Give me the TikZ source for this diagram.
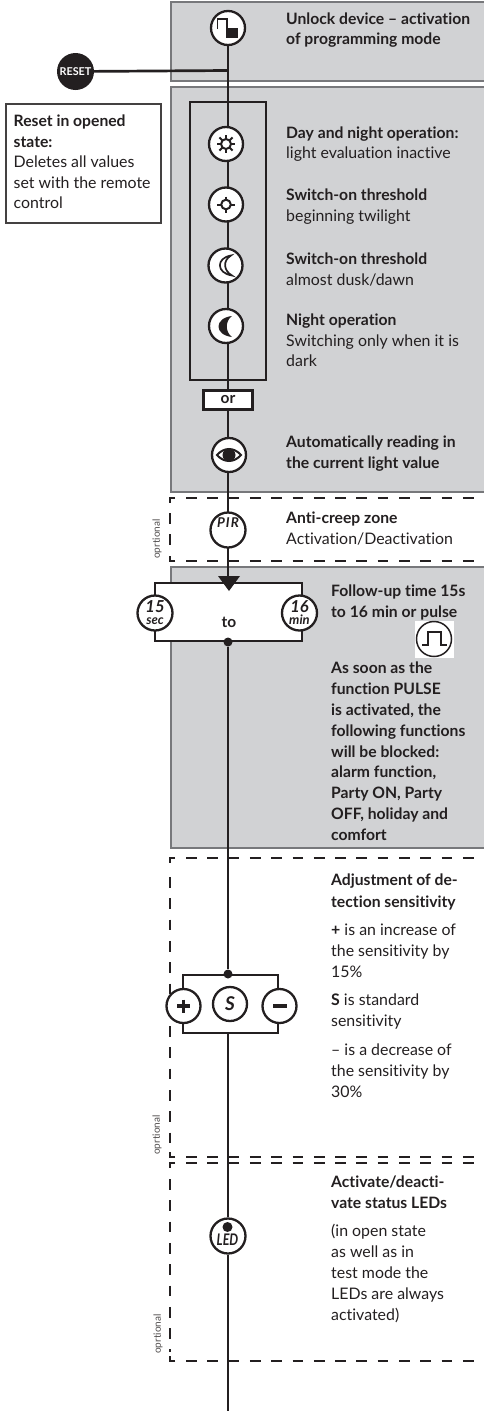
\documentclass[tikz,border=0pt]{standalone}
\usepackage{fontspec}
\setmainfont[Ligatures=NoCommon]{Lato}
\usetikzlibrary{backgrounds}
\definecolor{ink}{HTML}{231F20}
\definecolor{panel}{HTML}{D1D2D4}
\definecolor{edge}{HTML}{77787B}
\newcounter{txc}
\newcommand{\tx}[3]{\stepcounter{txc}\node[lbl] (t\thetxc) at (#1,#2) {#3};}
\newcommand{\tb}[3]{\stepcounter{txc}\node[lblb] (t\thetxc) at (#1,#2) {#3};}
\newcommand{\optl}[2]{\stepcounter{txc}\node[optlbl] (t\thetxc) at (#1,#2) {oprtional};}
\tikzset{
  lbl/.style={anchor=base west,inner sep=0,text=ink,font=\fontsize{15.9}{20}\selectfont},
  lblb/.style={anchor=base west,inner sep=0,text=ink,font=\fontsize{15.7}{20}\selectfont\bfseries},
  optlbl/.style={rotate=90,inner sep=0,text=ink!80,font=\fontsize{10}{10}\selectfont},
  icon/.style={circle,draw=ink,fill=white,line width=2.3pt,minimum size=34pt,inner sep=0pt,text=ink},
  panelbox/.style={fill=panel,draw=edge,line width=1.4pt},
  wire/.style={draw=ink,line width=2.7pt},
  dashln/.style={draw=ink,line width=2.7pt,dash pattern=on 10.7pt off 10.6pt},
  cornerln/.style={draw=ink,line width=2.7pt},
  glyph/.style={draw=ink,line width=2pt},
  ital/.style={font=\fontsize{#1}{#1}\selectfont\bfseries\itshape,inner sep=0,text=ink},
}
\begin{document}
\begin{tikzpicture}[x=1pt,y=-1pt]
\useasboundingbox (0,0) rectangle (484,1411);
% icon nodes
\node[icon] (lock) at (228,28) {};
\node[circle,fill=ink,minimum size=37pt,inner sep=0pt,text=white,font=\fontsize{10.8}{11}\selectfont\bfseries] (reset) at (75.5,71.5) {RESET};
\node[icon] (sun) at (226,144) {};
\node[icon] (thr) at (226,204.5) {};
\node[icon] (moon) at (225.5,265.5) {};
\node[icon] (night) at (226,326) {};
\node[draw=ink,fill=white,line width=2.7pt,minimum width=49pt,minimum height=19pt,inner sep=0,text=ink,font=\fontsize{15.5}{16}\selectfont\bfseries] (orbox) at (228,400) {or};
\node[icon] (eye) at (229,455) {};
\node[icon,minimum size=35pt] (pir) at (228,530) {};
\node[ital=13.5] (pirt) at (228,523) {P\kern1pt I\kern1pt R};
\node[icon,minimum size=35pt] (sec) at (155,613) {};
\node[ital=16.5,anchor=base] (sect1) at (155,612) {15};
\node[ital=13,anchor=base] (sect2) at (155,624) {sec};
\node[icon,minimum size=35pt] (mn) at (299.5,613) {};
\node[ital=16.5,anchor=base] (mnt1) at (299.5,612) {16};
\node[ital=13,anchor=base] (mnt2) at (299.5,624) {min};
\node[anchor=base,inner sep=0,text=ink,font=\fontsize{15.5}{16}\selectfont\bfseries] (tolbl) at (229,627) {to};
\node[circle,fill=ink,minimum size=9pt,inner sep=0] (d1) at (228,642) {};
\node[circle,fill=ink,minimum size=9pt,inner sep=0] (d2) at (228,974) {};
\node[icon] (plus) at (183.5,1006) {};
\node[icon] (std) at (230,1004) {};
\node[ital=19] (stdt) at (230,1004) {S};
\node[icon] (minus) at (279.5,1006) {};
\node[icon,minimum size=35pt] (led) at (228,1236) {};
\node[ital=16,anchor=base,xscale=0.78] (ledt) at (227.5,1245.5) {LED};
\node[draw=ink!85,fill=white,line width=1.1pt,minimum width=155pt,minimum height=119pt,inner sep=0] (note) at (83.5,163.5) {};
% pulse icon
\node[fill=white,minimum width=39pt,minimum height=37pt,inner sep=0] (pw) at (434.5,639.5) {};
\node[icon,line width=1.5pt,minimum size=35pt] (pulse) at (434,639) {};
% coordinates on the wire
\coordinate (tip) at (228,584);
\coordinate (s1) at (228,975);
\coordinate (s2) at (228,1033);
\coordinate (end) at (228,1411);
\coordinate (rj) at (228,70.5);
\begin{scope}[on background layer]
  % panels
  \draw[panelbox] (171,2) rectangle (490,81);
  \draw[panelbox] (171,87) rectangle (490,492);
  \draw[panelbox] (171,567) rectangle (490,848);
  % dashed optional zones
  \foreach \yt/\yb in {498/561, 858/1157, 1163/1361}{
    \draw[dashln] (186,\yt) -- (490,\yt);
    \draw[dashln] (186,\yb) -- (490,\yb);
    \draw[cornerln] (175,\yt) -- (170,\yt) -- (170,\yt+5);
    \draw[cornerln] (175,\yb) -- (170,\yb) -- (170,\yb-5);
  }
  \draw[dashln] (170,513) -- (170,552);
  \draw[dashln] (170,877) -- (170,1150);
  \draw[dashln] (170,1179) -- (170,1352);
  % mode rectangle
  \draw[wire] (190,102) rectangle (266,380);
  % to box
  \draw[wire,fill=white] (155,583) rectangle (302,641);
  % main wire
  \draw[wire] (lock) -- (tip);
  \draw[wire] (d1) -- (d2);
  \draw[wire] (s2) -- (led) -- (end);
  \draw[wire] (reset) -- (rj);
  % sensitivity bracket
  \draw[wire] (183,1033) -- (183,975) -- (278,975) -- (278,1033) -- cycle;
\end{scope}
% arrow head
\fill[ink] (218,576) -- (240,576) -- (229,591) -- cycle;
% lock glyph
\draw[line width=1.8pt,ink] (217.5,29) -- (217.5,19) -- (227,19) -- (227,30);
\fill[ink] (226,28) rectangle (238,38);
% sun glyph
\draw[glyph] (226,144) circle (5);
\foreach \a in {0,45,...,315} \draw[glyph] (226,144) ++(\a:5) -- ++(\a:4.3);
% threshold glyph
\draw[glyph] (226,204.5) circle (4.8);
\draw[glyph] (217,204.5) -- (221.2,204.5) (230.8,204.5) -- (235,204.5) (226,196.5) -- (226,199.7) (226,209.3) -- (226,212.5);
% thin moon glyph
\draw[ink,line width=1.7pt] (231,255.5) .. controls (216,258) and (216,273) .. (232,275.5) .. controls (224,271) and (222,261) .. (231,255.5) -- cycle;
% night moon glyph
\fill[ink] (232,316) .. controls (214,318) and (214,335) .. (232,337) .. controls (225,332) and (225,321) .. (232,316) -- cycle;
% eye glyph
\draw[ink,line width=2pt] (217,455) .. controls (224,447) and (234,447) .. (241,455) .. controls (234,463) and (224,463) .. (217,455) -- cycle;
\fill[ink] (229,455) circle (6.5);
% plus / minus glyphs
\draw[ink,line width=3.5pt] (177,1006) -- (190,1006) (183.5,999.5) -- (183.5,1012.5);
\draw[ink,line width=3.5pt] (273,1006) -- (287,1006);
% led dot
\fill[ink] (227.5,1227) circle (5);
% pulse glyph
\draw[ink,line width=2pt] (422,645) -- (428,645) -- (428,632) -- (441,632) -- (441,645) -- (447,645);
% texts
\tb{286}{24}{Unlock device – activation}
\tb{286}{44}{of programming mode}
\tb{13.5}{126}{Reset in opened}
\tb{13.5}{147}{state:}
\tx{13.5}{167}{Deletes all values}
\tx{13.5}{188}{set with the remote}
\tx{13.5}{208}{control}
\tb{286}{138}{Day and night operation:}
\tx{286}{158}{light evaluation inactive}
\tb{286}{200}{Switch-on threshold}
\tx{286}{221}{beginning twilight}
\tb{286}{264}{Switch-on threshold}
\tx{286}{285}{almost dusk/dawn}
\tb{286}{325}{Night operation}
\tx{286}{346}{Switching only when it is}
\tx{286}{366}{dark}
\tb{286}{447}{Automatically reading in}
\tb{286}{468}{the current light value}
\tb{286}{523}{Anti-creep zone}
\tx{286}{544}{Activation/Deactivation}
\tb{331}{596}{Follow-up time 15s}
\tb{331}{617}{to 16 min or pulse}
\tb{331}{673}{As soon as the}
\tb{331}{694}{function PULSE}
\tb{331}{715}{is activated, the}
\tb{331}{736}{following functions}
\tb{331}{757}{will be blocked:}
\tb{331}{777}{alarm function,}
\tb{331}{798}{Party ON, Party}
\tb{331}{819}{OFF, holiday and}
\tb{331}{840}{comfort}
\tb{331}{885}{Adjustment of de-}
\tb{331}{907}{tection sensitivity}
\tx{331}{935}{\textbf{+} is an increase of}
\tx{331}{956}{the sensitivity by}
\tx{331}{977}{15\%}
\tx{331}{1005}{\textbf{S} is standard}
\tx{331}{1026}{sensitivity}
\tx{331}{1055}{– is a decrease of}
\tx{331}{1076}{the sensitivity by}
\tx{331}{1097}{30\%}
\tb{331}{1187}{Activate/deacti-}
\tb{331}{1208}{vate status LEDs}
\tx{331}{1236}{(in open state}
\tx{331}{1257}{as well as in}
\tx{331}{1278}{test mode the}
\tx{331}{1299}{LEDs are always}
\tx{331}{1320}{activated)}
\optl{157}{539}
\optl{157}{1135}
\optl{158}{1334}
\end{tikzpicture}
\end{document}
